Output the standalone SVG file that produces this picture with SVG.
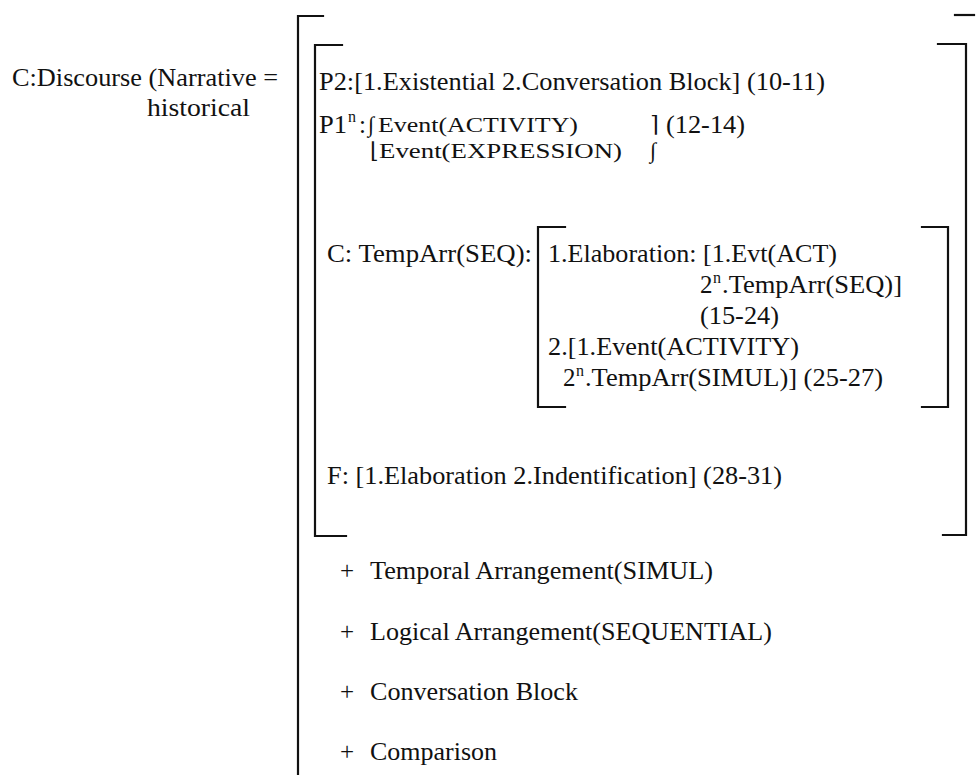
<svg xmlns="http://www.w3.org/2000/svg" width="976" height="775" viewBox="0 0 976 775">
<style>
.t{font-family:"Liberation Serif","DejaVu Serif",serif;font-size:25px;fill:#111}
.s{font-family:"Liberation Serif","DejaVu Serif",serif;font-size:22px;fill:#111}
.sup{font-family:"Liberation Serif","DejaVu Serif",serif;font-size:16px;fill:#111}
.br{fill:none;stroke:#111;stroke-width:2.2;stroke-linecap:square}
</style>
<rect width="976" height="775" fill="#fff"/>
<g id="label">
<text class="t" x="12" y="86" textLength="266" lengthAdjust="spacingAndGlyphs">C:Discourse (Narrative =</text>
<text class="t" x="147" y="116" textLength="103" lengthAdjust="spacingAndGlyphs">historical</text>
</g>
<g id="connectors">
<path class="br" d="M323,16 H298 V775"/>
<path class="br" d="M955,15 H974"/>
<path class="br" d="M342,45 H315 V536 H346"/>
<path class="br" d="M938,44 H966 V535 H943"/>
<path class="br" d="M565,227 H538 V407 H565"/>
<path class="br" d="M922,227 H948 V407 H922"/>
</g>
<g id="p2">
<text class="t" x="319" y="90" textLength="506" lengthAdjust="spacingAndGlyphs">P2:[1.Existential 2.Conversation Block] (10-11)</text>
</g>
<g id="p1">
<text class="t" x="319" y="133" textLength="28" lengthAdjust="spacingAndGlyphs">P1</text>
<text class="sup" x="348" y="122">n</text>
<text class="t" x="359" y="133">:</text>
<text class="s" x="368" y="132">∫</text>
<text class="s" x="378" y="132" textLength="200" lengthAdjust="spacingAndGlyphs">Event(ACTIVITY)</text>
<text class="s" x="650" y="132">⌉</text>
<text class="t" x="666" y="133" textLength="79" lengthAdjust="spacingAndGlyphs">(12-14)</text>
<text class="s" x="370" y="158">⌊</text>
<text class="s" x="379" y="158" textLength="243" lengthAdjust="spacingAndGlyphs">Event(EXPRESSION)</text>
<text class="s" x="650" y="158">∫</text>
</g>
<g id="c">
<text class="t" x="327" y="262" textLength="205" lengthAdjust="spacingAndGlyphs">C: TempArr(SEQ):</text>
<text class="t" x="548" y="262" textLength="289" lengthAdjust="spacingAndGlyphs">1.Elaboration: [1.Evt(ACT)</text>
<text class="t" x="700" y="293">2</text>
<text class="sup" x="713" y="283">n</text>
<text class="t" x="722" y="293" textLength="180" lengthAdjust="spacingAndGlyphs">.TempArr(SEQ)]</text>
<text class="t" x="700" y="324" textLength="79" lengthAdjust="spacingAndGlyphs">(15-24)</text>
<text class="t" x="548" y="355" textLength="251" lengthAdjust="spacingAndGlyphs">2.[1.Event(ACTIVITY)</text>
<text class="t" x="563" y="386">2</text>
<text class="sup" x="576" y="376">n</text>
<text class="t" x="585" y="386" textLength="298" lengthAdjust="spacingAndGlyphs">.TempArr(SIMUL)] (25-27)</text>
</g>
<g id="f">
<text class="t" x="327" y="484" textLength="455" lengthAdjust="spacingAndGlyphs">F: [1.Elaboration 2.Indentification] (28-31)</text>
</g>
<g id="plus">
<text class="t" x="340" y="579">+</text>
<text class="t" x="370" y="579" textLength="343" lengthAdjust="spacingAndGlyphs">Temporal Arrangement(SIMUL)</text>
<text class="t" x="340" y="640">+</text>
<text class="t" x="370" y="640" textLength="402" lengthAdjust="spacingAndGlyphs">Logical Arrangement(SEQUENTIAL)</text>
<text class="t" x="340" y="700">+</text>
<text class="t" x="370" y="700" textLength="208" lengthAdjust="spacingAndGlyphs">Conversation Block</text>
<text class="t" x="340" y="760">+</text>
<text class="t" x="370" y="760" textLength="127" lengthAdjust="spacingAndGlyphs">Comparison</text>
</g>
</svg>
